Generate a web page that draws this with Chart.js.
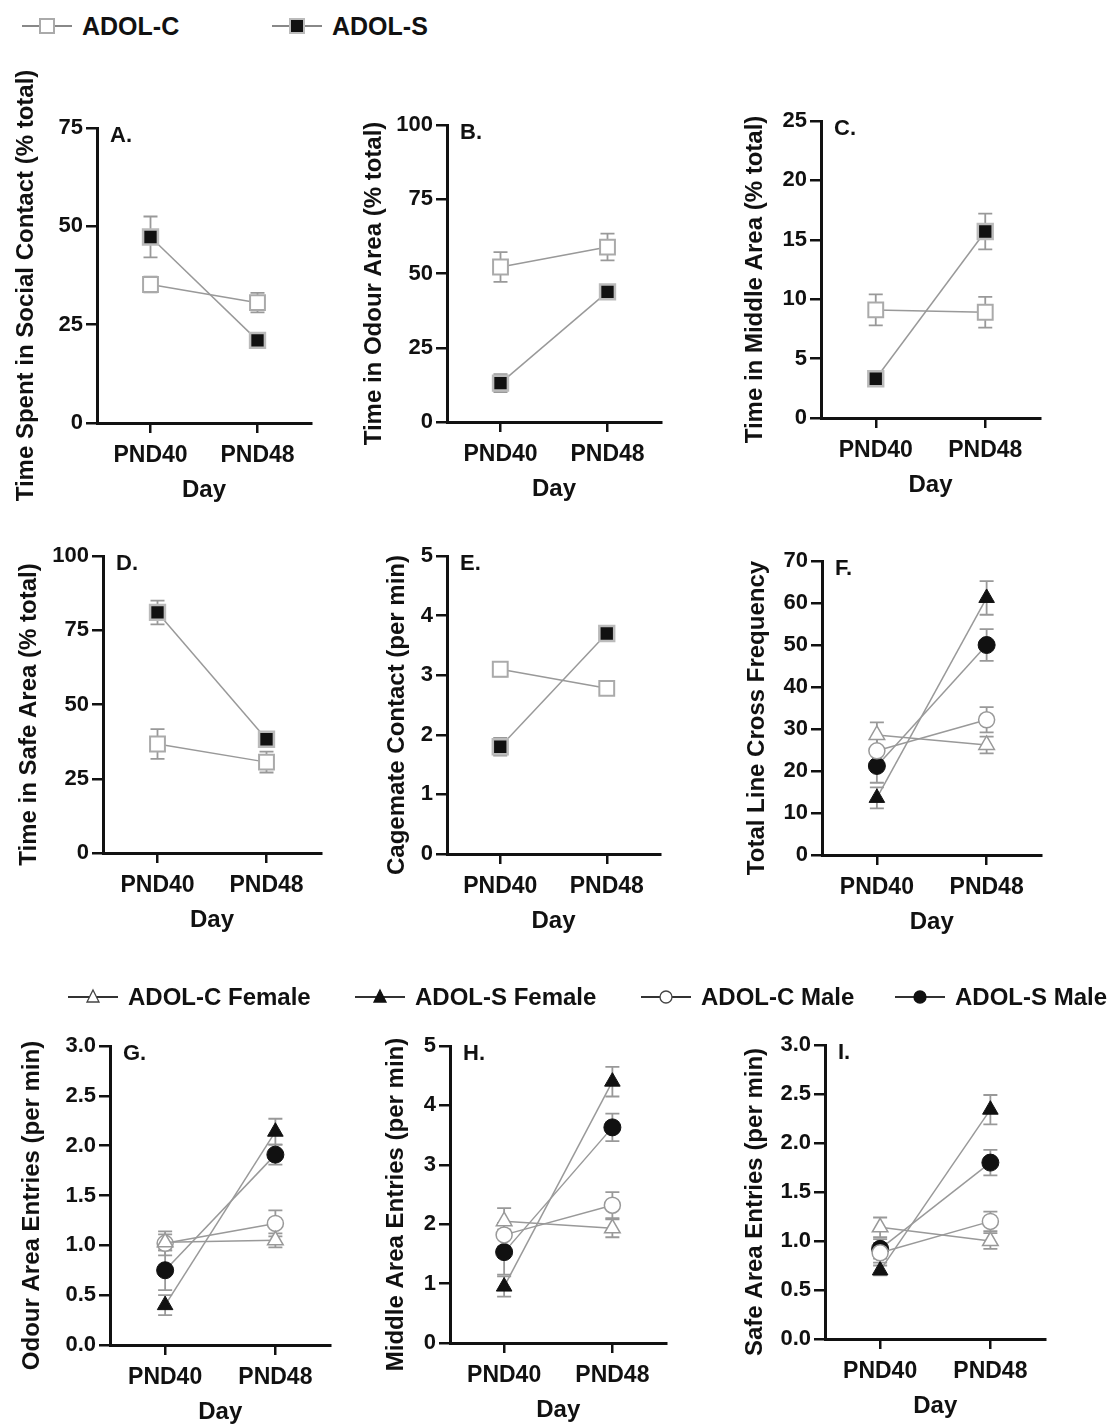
<!DOCTYPE html>
<html>
<head>
<meta charset="utf-8">
<script src="https://cdn.jsdelivr.net/npm/chart.js@4.4.1/dist/chart.umd.min.js"></script>
<style>
  body { margin: 0; background: #fff; font-family: "Liberation Sans", Arial, sans-serif; }
  #page { position: relative; width: 1112px; height: 1426px; overflow: hidden; }
  .panel { position: absolute; }
  .key { position: absolute; display: flex; align-items: center; font-weight: bold; color: #111; white-space: nowrap; }
  .key svg { margin-right: 8px; }
</style>
</head>
<body>
<div id="page"></div>
<script>
// x categories
const days = ['PND40', 'PND48'];

// group names
const groupsAB = ['ADOL-C', 'ADOL-S'];
const groupsSex = ['ADOL-C Female', 'ADOL-S Female', 'ADOL-C Male', 'ADOL-S Male'];

// A. social contact (% total)
const socialC = [35.2, 30.6], socialCErr = [2.0, 2.5];
const socialS = [47.3, 21.0], socialSErr = [5.2, 1.2];

// B. odour area (% total)
const odourC = [52.2, 58.9], odourCErr = [5.0, 4.5];
const odourS = [13.1, 43.8], odourSErr = [3.0, 1.5];

// C. middle area (% total)
const middleC = [9.1, 8.9], middleCErr = [1.3, 1.3];
const middleS = [3.3, 15.7], middleSErr = [0.6, 1.5];

// D. safe area (% total)
const safeC = [36.7, 30.6], safeCErr = [5.0, 3.5];
const safeS = [81.0, 38.3], safeSErr = [4.0, 2.0];

// E. cagemate contact (per min)
const cageC = [3.1, 2.78], cageCErr = [0.12, 0.1];
const cageS = [1.8, 3.7], cageSErr = [0.15, 0.12];

// F. total line crosses
const crossCF = [28.6, 26.2], crossCFErr = [3.0, 2.0];
const crossSF = [13.6, 61.2], crossSFErr = [2.5, 4.0];
const crossCM = [24.8, 32.2], crossCMErr = [3.0, 3.0];
const crossSM = [21.2, 50.0], crossSMErr = [4.0, 3.8];

// G. odour area entries (per min)
const odourEntCF = [1.03, 1.05], odourEntCFErr = [0.08, 0.07];
const odourEntSF = [0.40, 2.14], odourEntSFErr = [0.10, 0.13];
const odourEntCM = [1.02, 1.22], odourEntCMErr = [0.12, 0.13];
const odourEntSM = [0.75, 1.91], odourEntSMErr = [0.20, 0.10];

// H. middle area entries (per min)
const middleEntCF = [2.05, 1.93], middleEntCFErr = [0.22, 0.15];
const middleEntSF = [0.95, 4.40], middleEntSFErr = [0.17, 0.25];
const middleEntCM = [1.82, 2.32], middleEntCMErr = [0.20, 0.22];
const middleEntSM = [1.53, 3.63], middleEntSMErr = [0.38, 0.23];

// I. safe area entries (per min)
const safeEntCF = [1.14, 1.00], safeEntCFErr = [0.10, 0.08];
const safeEntSF = [0.70, 2.34], safeEntSFErr = [0.05, 0.15];
const safeEntCM = [0.88, 1.20], safeEntCMErr = [0.10, 0.10];
const safeEntSM = [0.92, 1.80], safeEntSMErr = [0.10, 0.13];

const FONT = '"Liberation Sans", Arial, sans-serif';
const INK = '#111';
const LINE = '#999';

// marker looks per group
const styles = {
  'ADOL-C': { pointStyle: 'rect', pointRadius: 10.5, pointBackgroundColor: '#fff', pointBorderColor: '#aaa', pointBorderWidth: 2 },
  'ADOL-S': { pointStyle: 'rect', pointRadius: 10.5, pointBackgroundColor: INK, pointBorderColor: '#bbb', pointBorderWidth: 2.5 },
  'ADOL-C Female': { pointStyle: 'triangle', pointRadius: 9, pointBackgroundColor: '#fff', pointBorderColor: '#999', pointBorderWidth: 1.5 },
  'ADOL-S Female': { pointStyle: 'triangle', pointRadius: 9, pointBackgroundColor: INK, pointBorderColor: INK, pointBorderWidth: 1 },
  'ADOL-C Male': { pointStyle: 'circle', pointRadius: 8, pointBackgroundColor: '#fff', pointBorderColor: '#999', pointBorderWidth: 1.5 },
  'ADOL-S Male': { pointStyle: 'circle', pointRadius: 8.5, pointBackgroundColor: INK, pointBorderColor: INK, pointBorderWidth: 1 }
};

// SEM whiskers, drawn under the markers
const errorBars = {
  id: 'errorBars',
  beforeDatasetsDraw(chart) {
    const ctx = chart.ctx, y = chart.scales.y;
    chart.data.datasets.forEach((ds, i) => {
      const meta = chart.getDatasetMeta(i);
      ctx.save();
      ctx.strokeStyle = LINE;
      ctx.lineWidth = 1.8;
      meta.data.forEach((pt, j) => {
        const hi = y.getPixelForValue(ds.data[j] + ds.errors[j]);
        const lo = y.getPixelForValue(ds.data[j] - ds.errors[j]);
        ctx.beginPath();
        ctx.moveTo(pt.x, hi); ctx.lineTo(pt.x, lo);
        ctx.moveTo(pt.x - 7, hi); ctx.lineTo(pt.x + 7, hi);
        ctx.moveTo(pt.x - 7, lo); ctx.lineTo(pt.x + 7, lo);
        ctx.stroke();
      });
      ctx.restore();
    });
  }
};

// "A.", "B." ... in the corner of each plot
const panelLetter = {
  id: 'panelLetter',
  afterDraw(chart, args, opts) {
    const ctx = chart.ctx, a = chart.chartArea;
    ctx.save();
    ctx.font = 'bold 22px ' + FONT;
    ctx.fillStyle = INK;
    ctx.textBaseline = 'top';
    ctx.fillText(opts.text, a.left + 13, a.top - 3);
    ctx.restore();
  }
};

// rotated y title, sits a little below the middle of the axis
const yTitle = {
  id: 'yTitle',
  afterDraw(chart, args, opts) {
    const ctx = chart.ctx, a = chart.chartArea;
    ctx.save();
    ctx.font = 'bold 24px ' + FONT;
    ctx.fillStyle = INK;
    ctx.textAlign = 'center';
    ctx.textBaseline = 'middle';
    ctx.translate(opts.x, (a.top + a.bottom) / 2 + opts.shift);
    ctx.rotate(-Math.PI / 2);
    ctx.fillText(opts.text, 0, 0);
    ctx.restore();
  }
};

const PAD_TOP = 80, PAD_BOTTOM = 24;

function makePanel(p) {
  const b = p.box;
  const left = b.tx - 14, top = b.top - PAD_TOP;
  const w = b.right - left + 6, h = b.bottom - top + 82 + PAD_BOTTOM;
  const wrap = document.createElement('div');
  wrap.className = 'panel';
  wrap.style.left = left + 'px';
  wrap.style.top = top + 'px';
  const cv = document.createElement('canvas');
  cv.width = w; cv.height = h;
  cv.style.width = w + 'px'; cv.style.height = h + 'px';
  wrap.appendChild(cv);
  document.getElementById('page').appendChild(wrap);

  new Chart(cv, {
    type: 'line',
    data: {
      labels: days,
      datasets: p.series.map(s => Object.assign({
        label: s.name,
        data: s.data,
        errors: s.err,
        borderColor: LINE,
        borderWidth: 1.5,
        clip: false
      }, styles[s.name]))
    },
    options: {
      responsive: false,
      animation: false,
      devicePixelRatio: 1,
      layout: { padding: { left: 0, top: PAD_TOP, right: 6, bottom: PAD_BOTTOM } },
      plugins: {
        legend: { display: false },
        tooltip: { enabled: false },
        panelLetter: { text: p.letter },
        yTitle: { text: p.title, x: 14, shift: 10 }
      },
      scales: {
        x: {
          type: 'category',
          offset: true,
          afterFit(s) { s.height = 82; },
          grid: { offset: false, drawOnChartArea: false, drawTicks: true, tickLength: 10, color: INK, lineWidth: 2.5 },
          border: { display: true, color: INK, width: 3 },
          ticks: { color: INK, padding: 9, font: { family: FONT, size: 23, weight: 'bold' } },
          title: { display: true, text: 'Day', color: INK, padding: 0, font: { family: FONT, size: 24, weight: 'bold' } }
        },
        y: {
          min: 0, max: p.max,
          afterFit(s) { s.width = b.ax - left; },
          grid: { drawOnChartArea: false, drawTicks: true, tickLength: 11, color: INK, lineWidth: 2.5 },
          border: { display: true, color: INK, width: 3 },
          ticks: {
            stepSize: p.step, color: INK, padding: 3,
            font: { family: FONT, size: 22, weight: 'bold' },
            callback: v => p.decimals ? v.toFixed(p.decimals) : v
          },
          title: { display: false }
        }
      }
    },
    plugins: [errorBars, panelLetter, yTitle]
  });
}

const twoGroups = (c, ce, s, se) => [
  { name: groupsAB[0], data: c, err: ce },
  { name: groupsAB[1], data: s, err: se }
];
const fourGroups = (cf, cfe, sf, sfe, cm, cme, sm, sme) => [
  { name: groupsSex[0], data: cf, err: cfe },
  { name: groupsSex[2], data: cm, err: cme },
  { name: groupsSex[1], data: sf, err: sfe },
  { name: groupsSex[3], data: sm, err: sme }
];

const panels = [
  { letter: 'A.', box: { ax: 97, top: 128, bottom: 423, right: 318, tx: 26 }, max: 75, step: 25,
    title: 'Time Spent in Social Contact (% total)', series: twoGroups(socialC, socialCErr, socialS, socialSErr) },
  { letter: 'B.', box: { ax: 447, top: 125, bottom: 422, right: 668, tx: 374 }, max: 100, step: 25,
    title: 'Time in Odour Area (% total)', series: twoGroups(odourC, odourCErr, odourS, odourSErr) },
  { letter: 'C.', box: { ax: 821, top: 121, bottom: 418, right: 1047, tx: 755 }, max: 25, step: 5,
    title: 'Time in Middle Area (% total)', series: twoGroups(middleC, middleCErr, middleS, middleSErr) },
  { letter: 'D.', box: { ax: 103, top: 556, bottom: 853, right: 328, tx: 29 }, max: 100, step: 25,
    title: 'Time in Safe Area (% total)', series: twoGroups(safeC, safeCErr, safeS, safeSErr) },
  { letter: 'E.', box: { ax: 447, top: 556, bottom: 854, right: 667, tx: 397 }, max: 5, step: 1,
    title: 'Cagemate Contact (per min)', series: twoGroups(cageC, cageCErr, cageS, cageSErr) },
  { letter: 'F.', box: { ax: 822, top: 561, bottom: 855, right: 1046, tx: 757 }, max: 70, step: 10,
    title: 'Total Line Cross Frequency',
    series: fourGroups(crossCF, crossCFErr, crossSF, crossSFErr, crossCM, crossCMErr, crossSM, crossSMErr) },
  { letter: 'G.', box: { ax: 110, top: 1046, bottom: 1345, right: 335, tx: 32 }, max: 3, step: 0.5, decimals: 1,
    title: 'Odour Area Entries (per min)',
    series: fourGroups(odourEntCF, odourEntCFErr, odourEntSF, odourEntSFErr, odourEntCM, odourEntCMErr, odourEntSM, odourEntSMErr) },
  { letter: 'H.', box: { ax: 450, top: 1046, bottom: 1343, right: 671, tx: 396 }, max: 5, step: 1,
    title: 'Middle Area Entries (per min)',
    series: fourGroups(middleEntCF, middleEntCFErr, middleEntSF, middleEntSFErr, middleEntCM, middleEntCMErr, middleEntSM, middleEntSMErr) },
  { letter: 'I.', box: { ax: 825, top: 1045, bottom: 1339, right: 1050, tx: 755 }, max: 3, step: 0.5, decimals: 1,
    title: 'Safe Area Entries (per min)',
    series: fourGroups(safeEntCF, safeEntCFErr, safeEntSF, safeEntSFErr, safeEntCM, safeEntCMErr, safeEntSM, safeEntSMErr) }
];
panels.forEach(makePanel);

// legend keys
function markerSvg(name, lineColor) {
  const st = styles[name];
  const fill = st.pointBackgroundColor;
  const stroke = name.indexOf('Male') > 0 || name.indexOf('Female') > 0 ? (fill === '#fff' ? '#444' : INK) : st.pointBorderColor;
  let mark;
  if (st.pointStyle === 'rect') mark = `<rect x="20" y="5" width="14" height="14" fill="${fill}" stroke="${stroke}" stroke-width="2"/>`;
  else if (st.pointStyle === 'triangle') mark = `<polygon points="27,5 33,17 21,17" fill="${fill}" stroke="${stroke}" stroke-width="1.3"/>`;
  else mark = `<circle cx="27" cy="12" r="6" fill="${fill}" stroke="${stroke}" stroke-width="1.3"/>`;
  return `<svg width="54" height="24"><line x1="2" y1="12" x2="52" y2="12" stroke="${lineColor}" stroke-width="2"/>${mark}</svg>`;
}
function addKey(name, x, cy, size, lineColor) {
  const el = document.createElement('div');
  el.className = 'key';
  el.style.left = x + 'px';
  el.style.top = (cy - 14) + 'px';
  el.style.height = '28px';
  el.style.fontSize = size + 'px';
  el.innerHTML = markerSvg(name, lineColor) + '<span>' + name + '</span>';
  document.getElementById('page').appendChild(el);
}
[20, 270].forEach((x, i) => addKey(groupsAB[i], x, 26, 25, '#888'));
[66, 353, 639, 893].forEach((x, i) => addKey(groupsSex[i], x, 997, 24, '#333'));
</script>
</body>
</html>
